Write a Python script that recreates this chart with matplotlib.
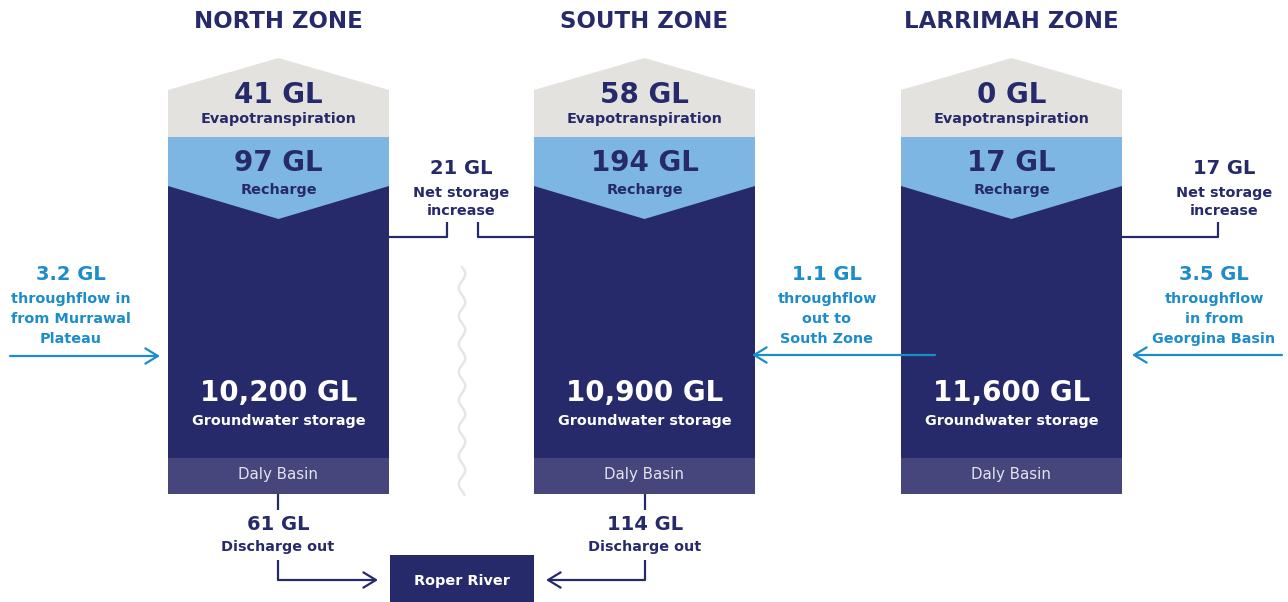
import numpy as np
import matplotlib.pyplot as plt
from matplotlib.patches import Polygon, Rectangle

# zone data
zones = ["NORTH ZONE", "SOUTH ZONE", "LARRIMAH ZONE"]
evapo = ["41 GL", "58 GL", "0 GL"]
recharge = ["97 GL", "194 GL", "17 GL"]
storage = ["10,200 GL", "10,900 GL", "11,600 GL"]
basin = ["Daly Basin", "Daly Basin", "Daly Basin"]
net_storage = ["21 GL", "17 GL"]
discharge = ["61 GL", "114 GL"]
throughflow = ["3.2 GL", "1.1 GL", "3.5 GL"]
throughflow_text = ["throughflow in\nfrom Murrawal\nPlateau",
                    "throughflow\nout to\nSouth Zone",
                    "throughflow\nin from\nGeorgina Basin"]

NAVY = "#272a6a"
BAND = "#46467c"
GREY = "#e3e2de"
LBLUE = "#7db5e3"
CYAN = "#1d8ccb"
SMALL = 10.4

plt.rcParams["font.family"] = ["DejaVu Sans"]

fig = plt.figure(figsize=(12.88, 6.02), dpi=100)
ax = fig.add_axes([0, 0, 1, 1])
ax.set_xlim(0, 1288)
ax.set_ylim(602, 0)
ax.axis("off")

col_left = [168, 534, 901]
col_w = 221

for i, x0 in enumerate(col_left):
    x1 = x0 + col_w
    xc = x0 + col_w / 2
    # grey roof
    ax.add_patch(Polygon([(x0, 137), (x0, 90), (xc, 58), (x1, 90), (x1, 137)],
                         closed=True, fc=GREY, ec="none"))
    # light blue recharge
    ax.add_patch(Rectangle((x0, 137), col_w, 90, fc=LBLUE, ec="none"))
    # navy storage with V top
    ax.add_patch(Polygon([(x0, 186), (xc, 219), (x1, 186), (x1, 458), (x0, 458)],
                         closed=True, fc=NAVY, ec="none"))
    ax.add_patch(Rectangle((x0, 458), col_w, 36, fc=BAND, ec="none"))

    ax.text(xc, 22, zones[i], ha="center", va="center", fontsize=16.5,
            fontweight="bold", color=NAVY)
    ax.text(xc, 95, evapo[i], ha="center", va="center", fontsize=20,
            fontweight="bold", color=NAVY)
    ax.text(xc, 119, "Evapotranspiration", ha="center", va="center",
            fontsize=SMALL, fontweight="bold", color=NAVY)
    ax.text(xc, 163, recharge[i], ha="center", va="center", fontsize=20,
            fontweight="bold", color=NAVY)
    ax.text(xc, 190, "Recharge", ha="center", va="center", fontsize=SMALL,
            fontweight="bold", color=NAVY)
    ax.text(xc, 393, storage[i], ha="center", va="center", fontsize=20,
            fontweight="bold", color="white")
    ax.text(xc, 421, "Groundwater storage", ha="center", va="center",
            fontsize=SMALL, fontweight="bold", color="white")
    ax.text(xc, 475, basin[i], ha="center", va="center", fontsize=10.8,
            color="#e4e4ef")

# net storage increase connectors
lk = dict(color=NAVY, lw=1.6, solid_capstyle="butt")
ax.plot([389, 447, 447], [237, 237, 222], **lk)
ax.plot([478, 478, 534], [222, 237, 237], **lk)
ax.plot([1122, 1218, 1218], [237, 237, 222], **lk)
for xt, txt in zip([461, 1224], net_storage):
    ax.text(xt, 169, txt, ha="center", va="center", fontsize=14,
            fontweight="bold", color=NAVY)
    ax.text(xt, 202, "Net storage\nincrease", ha="center", va="center",
            fontsize=SMALL, fontweight="bold", color=NAVY, linespacing=1.45)

# wavy separator
yy = np.linspace(267, 495, 600)
ax.plot(462 + 3.2 * np.sin((yy - 267) / 28 * 2 * np.pi), yy,
        color="#e6e6e6", lw=1.8, solid_capstyle="round")

# throughflow arrows
arr = dict(arrowstyle="->,head_length=0.9,head_width=0.55", color=CYAN, lw=1.6,
           shrinkA=0, shrinkB=0)
ax.annotate("", xy=(160, 356), xytext=(10, 356), arrowprops=arr)
ax.annotate("", xy=(752, 355), xytext=(935, 355), arrowprops=arr)
ax.annotate("", xy=(1132, 355), xytext=(1282, 355), arrowprops=arr)
for xt, val, txt in zip([71, 827, 1214], throughflow, throughflow_text):
    ax.text(xt, 275, val, ha="center", va="center", fontsize=14,
            fontweight="bold", color=CYAN)
    ax.text(xt, 319, txt, ha="center", va="center", fontsize=SMALL,
            fontweight="bold", color=CYAN, linespacing=1.55)

# discharge to Roper River
nav_arr = dict(arrowstyle="->,head_length=0.9,head_width=0.55", color=NAVY,
               lw=1.6, shrinkA=0, shrinkB=0)
for xc, val, xend in zip([278, 645], discharge, [378, 546]):
    ax.plot([xc, xc], [494, 510], **lk)
    ax.plot([xc, xc], [560, 580], **lk)
    ax.annotate("", xy=(xend, 580), xytext=(xc, 580), arrowprops=nav_arr)
    ax.text(xc, 524, val, ha="center", va="center", fontsize=14,
            fontweight="bold", color=NAVY)
    ax.text(xc, 547, "Discharge out", ha="center", va="center", fontsize=SMALL,
            fontweight="bold", color=NAVY)

ax.add_patch(Rectangle((390, 555), 144, 50, fc=NAVY, ec="none"))
ax.text(462, 581, "Roper River", ha="center", va="center", fontsize=SMALL,
        fontweight="bold", color="white")

fig.savefig("out.png", dpi=100)
